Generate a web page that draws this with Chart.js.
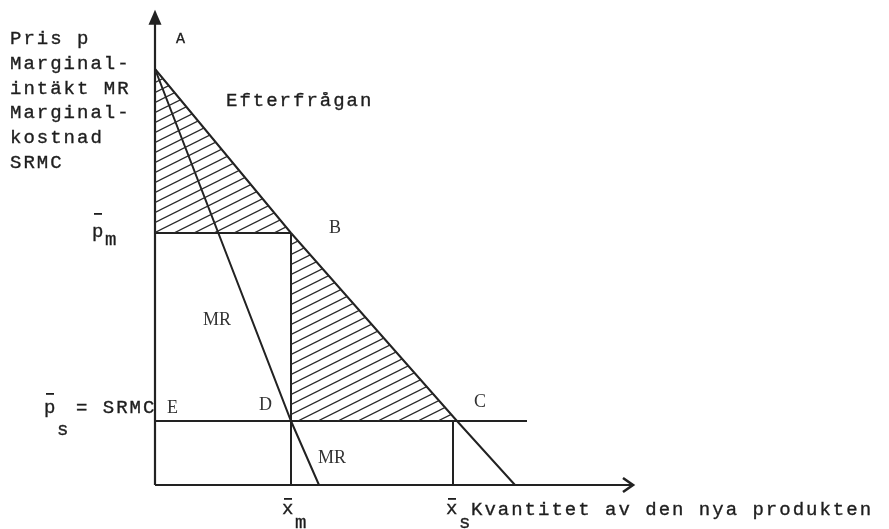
<!DOCTYPE html>
<html>
<head>
<meta charset="utf-8">
<script src="https://cdn.jsdelivr.net/npm/chart.js@4/dist/chart.umd.min.js"></script>
<style>
  html, body { margin: 0; padding: 0; background: #ffffff; }
  canvas { display: block; }
</style>
</head>
<body>
<canvas id="c" width="889" height="529"></canvas>
<script>
// ---- data (in diagram units) ----
const demandX = [0, 3.4, 7.55, 9.0];
const demandP = [10.4, 6.3, 1.6, 0];
const mrX = [0, 3.4, 4.1];
const mrP = [10.4, 1.6, 0];
const pM = 6.3;      // monopoly price  p̄m
const pS = 1.6;      // SRMC price      p̄s
const xM = 3.4;      // monopoly quantity x̄m
const xS = 7.45;     // SRMC quantity x̄s
const srmcLineEnd = 9.3;
const axisXEnd = 11.95;
const axisYEnd = 11.88;
const yTitleLines = ['Pris p', 'Marginal-', 'intäkt MR', 'Marginal-', 'kostnad', 'SRMC'];
const xTitle = 'Kvantitet av den nya produkten';
const demandLabel = 'Efterfrågan';
const pointLabels = ['A', 'B', 'C', 'D', 'E'];
const mrLabel = 'MR';

// ---- hatch pattern ----
function makeHatch() {
  const pc = document.createElement('canvas');
  pc.width = 20; pc.height = 10;
  const g = pc.getContext('2d');
  g.strokeStyle = '#2a2a2a';
  g.lineWidth = 1.25;
  for (let k = -1; k <= 1; k++) {
    g.beginPath();
    g.moveTo(-2, 10 + k * 10 + 1);
    g.lineTo(22, k * 10 - 1);
    g.stroke();
  }
  return document.getElementById('c').getContext('2d').createPattern(pc, 'repeat');
}
const hatch = makeHatch();

const pts = (xs, ys) => xs.map((x, i) => ({ x: x, y: ys[i] }));
const LINE = '#222';

function seg(data, w) {
  return { data: data, borderColor: LINE, borderWidth: w || 2, pointRadius: 0, fill: false, clip: false, tension: 0 };
}

const datasets = [
  { data: pts(demandX.slice(0, 2), demandP.slice(0, 2)), borderWidth: 0, borderColor: 'rgba(0,0,0,0)',
    backgroundColor: hatch, fill: { value: pM }, pointRadius: 0, clip: false },
  { data: pts(demandX.slice(1, 3), demandP.slice(1, 3)), borderWidth: 0, borderColor: 'rgba(0,0,0,0)',
    backgroundColor: hatch, fill: { value: pS }, pointRadius: 0, clip: false },
  seg(pts(demandX, demandP)),
  seg(pts(mrX, mrP)),
  seg([{ x: 0, y: pM }, { x: xM, y: pM }]),
  seg([{ x: xM, y: pM }, { x: xM, y: 0 }]),
  seg([{ x: 0, y: pS }, { x: srmcLineEnd, y: pS }]),
  seg([{ x: xS, y: pS }, { x: xS, y: 0 }]),
  seg([{ x: 0, y: 0 }, { x: 0, y: axisYEnd - 0.3 }], 2.2),
  seg([{ x: 0, y: 0 }, { x: axisXEnd, y: 0 }], 2.2)
];

const labelsPlugin = {
  id: 'labels',
  afterDraw(chart) {
    const ctx = chart.ctx;
    const xs = chart.scales.x, ys = chart.scales.y;
    const X = v => xs.getPixelForValue(v), Y = v => ys.getPixelForValue(v);
    ctx.save();
    // arrowheads
    ctx.fillStyle = LINE; ctx.strokeStyle = LINE;
    const ty = Y(axisYEnd), ax = X(0);
    ctx.beginPath();
    ctx.moveTo(ax, ty); ctx.lineTo(ax - 6.5, ty + 15); ctx.lineTo(ax + 6.5, ty + 15); ctx.closePath(); ctx.fill();
    const tx = X(axisXEnd), ay = Y(0);
    ctx.lineWidth = 2.6; ctx.lineJoin = 'miter';
    ctx.beginPath();
    ctx.moveTo(tx - 10, ay - 7); ctx.lineTo(tx, ay); ctx.lineTo(tx - 10, ay + 7); ctx.stroke();

    // typewriter text
    const mono = '19px "Liberation Mono", "DejaVu Sans Mono", monospace';
    ctx.fillStyle = '#1e1e1e';
    ctx.strokeStyle = '#1e1e1e';
    ctx.lineWidth = 0.35;
    ctx.textBaseline = 'alphabetic';
    ctx.textAlign = 'left';
    ctx.font = mono;
    ctx.letterSpacing = '2px';
    const put = (t, x, y) => { ctx.fillText(t, x, y); ctx.strokeText(t, x, y); };
    yTitleLines.forEach((t, i) => put(t, 10, 44 + i * 24.8));
    put(demandLabel, 226, 106);
    put(xTitle, X(xS) + 18, 515);
    // bar-labels
    function barLabel(base, sub, x, y, subDy, barY) {
      put(base, x, y);
      put(sub, x + 13, y + subDy);
      ctx.fillRect(x + 2, barY, 8, 1.8);
    }
    barLabel('p', 'm', 92, 237, 8, 213);
    barLabel('p', 's', 44, 413, 22, 393);
    barLabel('x', 'm', X(xM) - 9, 514, 14, 498);
    barLabel('x', 's', X(xS) - 7, 514, 14, 498);
    put('= SRMC', 76, 413);
    ctx.font = '15px "Liberation Mono", monospace';
    ctx.letterSpacing = '0px';
    put(pointLabels[0], 176, 43);

    // lettered points
    ctx.font = '18px "Liberation Serif", "DejaVu Serif", serif';
    ctx.fillStyle = '#333';
    ctx.fillText(pointLabels[1], 329, 233);
    ctx.fillText(pointLabels[2], 474, 407);
    ctx.fillText(pointLabels[3], 259, 410);
    ctx.fillText(pointLabels[4], 167, 413);
    ctx.fillText(mrLabel, 203, 325);
    ctx.fillText(mrLabel, 318, 463);
    ctx.restore();
  }
};

new Chart(document.getElementById('c'), {
  type: 'line',
  data: { datasets: datasets },
  options: {
    responsive: false,
    animation: false,
    layout: { padding: { left: 155, right: 254, top: 5, bottom: 44 } },
    scales: {
      x: { type: 'linear', min: 0, max: 12, display: false },
      y: { type: 'linear', min: 0, max: 12, display: false }
    },
    plugins: { legend: { display: false }, tooltip: { enabled: false } },
    elements: { line: { tension: 0 } }
  },
  plugins: [labelsPlugin]
});
</script>
</body>
</html>
